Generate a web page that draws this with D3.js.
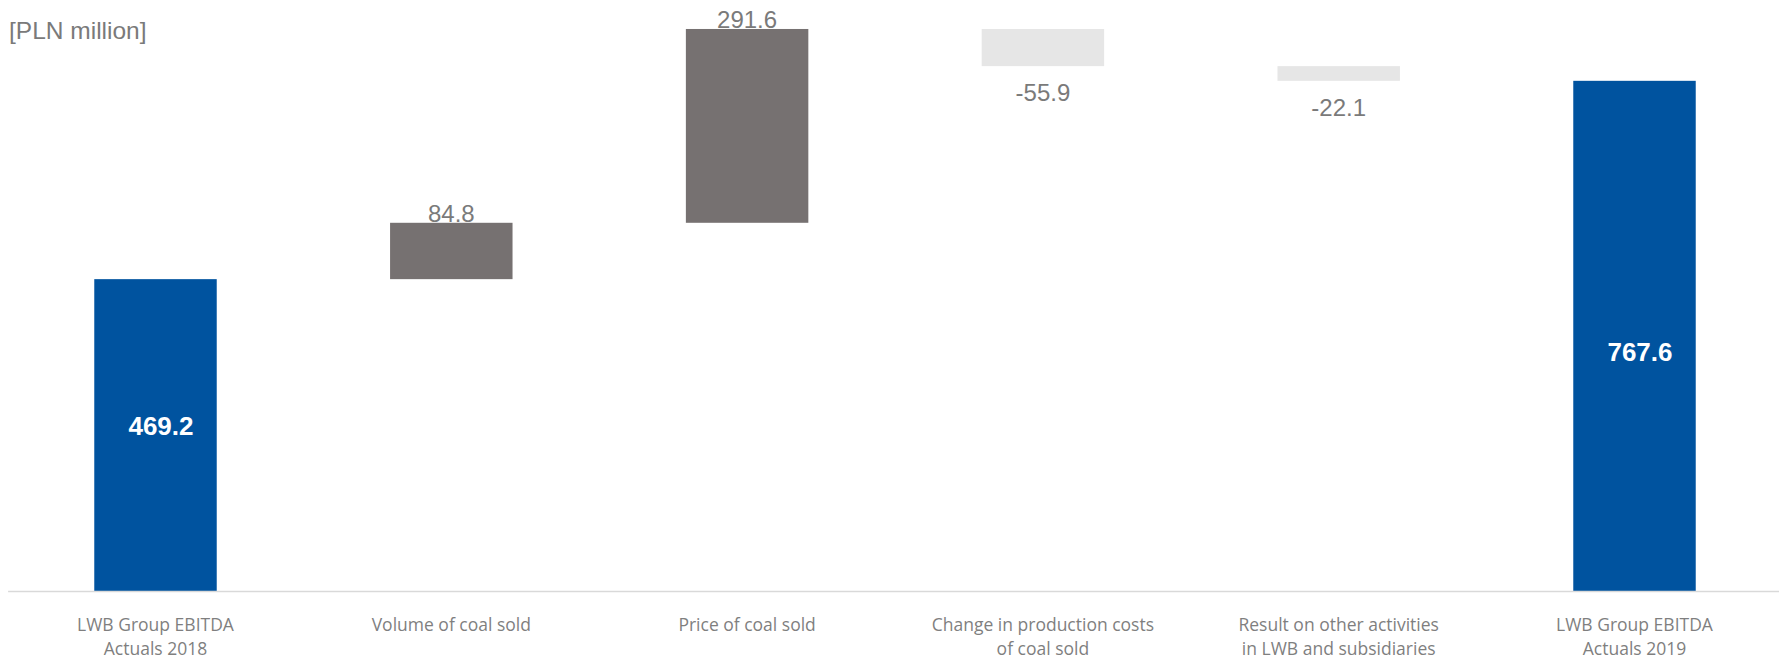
<!DOCTYPE html>
<html>
<head>
<meta charset="utf-8">
<script src="https://cdn.jsdelivr.net/npm/d3@7"></script>
<style>
  html, body { margin: 0; padding: 0; background: #ffffff; }
  svg { display: block; }
</style>
</head>
<body>
<svg id="chart" width="1779" height="660"></svg>
<script>
// ---- data ----
const categories = [
  ["LWB Group EBITDA", "Actuals 2018"],
  ["Volume of coal sold"],
  ["Price of coal sold"],
  ["Change in production costs", "of coal sold"],
  ["Result on other activities", "in LWB and subsidiaries"],
  ["LWB Group EBITDA", "Actuals 2019"]
];
const values = [469.2, 84.8, 291.6, -55.9, -22.1, 767.6];
const barTypes = ["total", "delta", "delta", "delta", "delta", "total"];
const valueLabels = ["469.2", "84.8", "291.6", "-55.9", "-22.1", "767.6"];
const unitLabel = "[PLN million]";

// ---- build waterfall ----
let running = 0;
const bars = values.map((v, i) => {
  let y0, y1;
  if (barTypes[i] === "total") { y0 = 0; y1 = v; running = v; }
  else { y0 = running; y1 = running + v; running = y1; }
  return { i, v, y0, y1, type: barTypes[i], label: valueLabels[i] };
});

const svg = d3.select("#chart");
const x = d3.scaleBand()
  .domain(d3.range(categories.length))
  .range([7.6, 1782.4])
  .paddingInner(0.586)
  .paddingOuter(0.293);
const y = d3.scaleLinear().domain([0, 889.2]).range([591, 0]);

const colorFor = d => d.type === "total" ? "#00539f" : (d.v >= 0 ? "#767171" : "#e6e6e6");

svg.append("g").selectAll("rect").data(bars).join("rect")
  .attr("x", d => x(d.i))
  .attr("width", x.bandwidth())
  .attr("y", d => y(Math.max(d.y0, d.y1)))
  .attr("height", d => Math.abs(y(d.y0) - y(d.y1)))
  .attr("fill", colorFor);

// axis
const axis = svg.append("g").attr("transform", `translate(0,${y(0)})`)
  .call(d3.axisBottom(x).tickSize(0).tickSizeOuter(0).tickFormat(""));
axis.select(".domain").attr("stroke", "#d9d9d9").attr("stroke-width", 1.5);
axis.selectAll(".tick").each(function(i) {
  const t = d3.select(this).append("text")
    .attr("fill", "#7f7f7f")
    .attr("font-family", "'Open Sans', sans-serif")
    .attr("font-size", "17.5px")
    .attr("text-anchor", "middle");
  categories[i].forEach((line, k) => {
    t.append("tspan").attr("x", 0).attr("y", 40 + k * 24).text(line);
  });
});

// value labels
const lab = svg.append("g");
bars.forEach(d => {
  const cx = x(d.i) + x.bandwidth() / 2;
  if (d.type === "total") {
    lab.append("text")
      .attr("x", cx + 5.5)
      .attr("y", y(d.v * 0.377) - 38)
      .attr("text-anchor", "middle")
      .attr("font-family", "'Liberation Sans', Arial, sans-serif")
      .attr("font-weight", "bold")
      .attr("font-size", "26px")
      .attr("fill", "#ffffff")
      .text(d.label);
  } else if (d.v >= 0) {
    lab.append("text")
      .attr("x", cx)
      .attr("y", y(d.y1) - 1)
      .attr("text-anchor", "middle")
      .attr("font-family", "'Liberation Sans', Arial, sans-serif")
      .attr("font-size", "24px")
      .attr("fill", "#7a7a7a")
      .text(d.label);
  } else {
    lab.append("text")
      .attr("x", cx)
      .attr("y", y(d.y1) + 35)
      .attr("text-anchor", "middle")
      .attr("font-family", "'Liberation Sans', Arial, sans-serif")
      .attr("font-size", "24px")
      .attr("fill", "#7a7a7a")
      .text(d.label);
  }
});

// unit label
svg.append("text")
  .attr("x", 9)
  .attr("y", 38.5)
  .attr("font-family", "'Liberation Sans', Arial, sans-serif")
  .attr("font-size", "24.5px")
  .attr("fill", "#7a7a7a")
  .text(unitLabel);
</script>
</body>
</html>
